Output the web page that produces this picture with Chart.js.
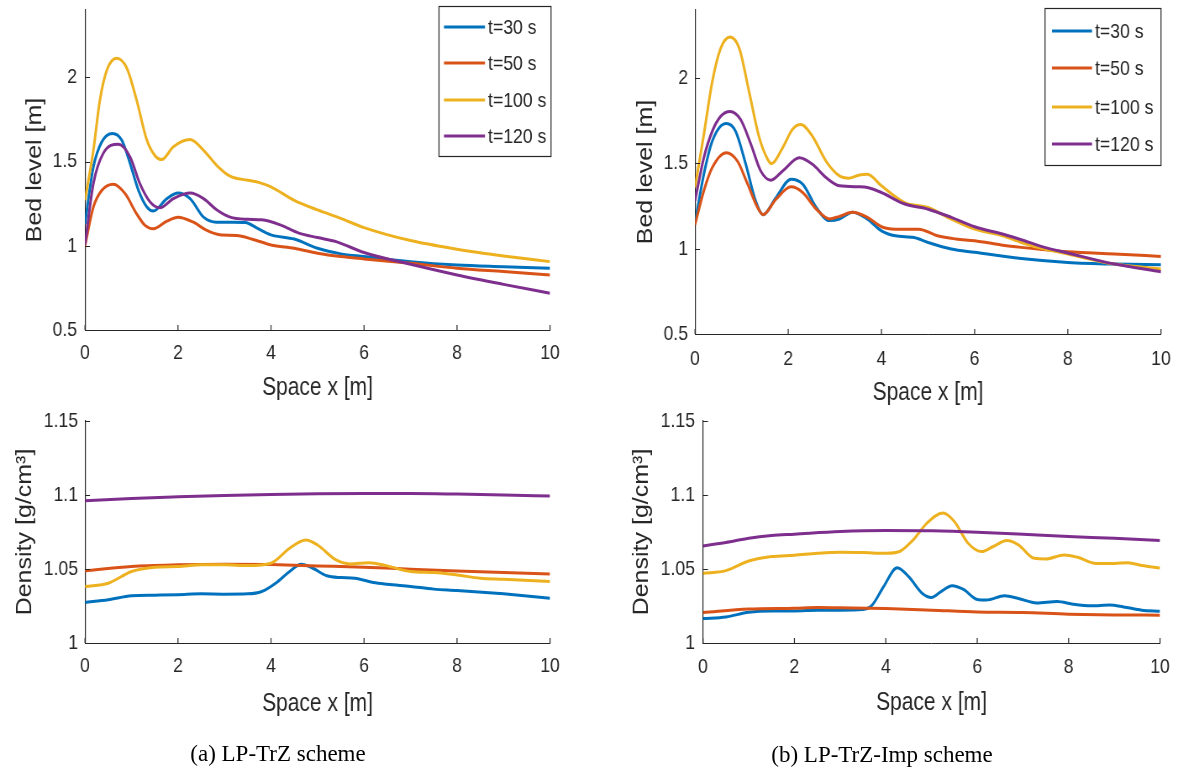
<!DOCTYPE html>
<html><head><meta charset="utf-8">
<script src="https://cdn.jsdelivr.net/npm/chart.js@4.4.0/dist/chart.umd.min.js"></script>
<style>
html,body{margin:0;padding:0;background:#fff;}
#wrap{position:relative;width:1178px;height:771px;overflow:hidden;background:#fff;}
#wrap canvas{position:absolute;left:0;top:0;}
.cap{position:absolute;font-family:'Liberation Serif','Times New Roman',serif;font-size:23px;color:#000;white-space:nowrap;transform:translate(-50%,-50%);}
</style></head><body>
<div id="wrap">
<canvas id="cTL" width="1402" height="771" style="width:1178px;height:771px"></canvas>
<canvas id="cTR" width="1402" height="771" style="width:1178px;height:771px"></canvas>
<canvas id="cBL" width="1402" height="771" style="width:1178px;height:771px"></canvas>
<canvas id="cBR" width="1402" height="771" style="width:1178px;height:771px"></canvas>
<div class="cap" style="left:278px;top:754px">(a) LP-TrZ scheme</div>
<div class="cap" style="left:882px;top:755px">(b) LP-TrZ-Imp scheme</div>
</div>
<script>
// ---------- series labels / tick labels ----------
const seriesLabels = ['t=30 s', 't=50 s', 't=100 s', 't=120 s'];
const xTicks = [0, 2, 4, 6, 8, 10];
const bedTicks = [0.5, 1, 1.5, 2];
const densTicks = [1, 1.05, 1.1, 1.15];

// ---------- (a) LP-TrZ : bed level ----------
const aBedX30 = [0, 0.18, 0.36, 0.59, 0.79, 0.97, 1.15, 1.33, 1.47, 1.76, 2.0, 2.26, 2.55, 2.83, 3.19, 3.45, 3.7, 4.0, 4.5, 5.0, 5.5, 6.0, 7.0, 8.0, 9.0, 10.0];
const aBedY30 = [1.131, 1.468, 1.617, 1.667, 1.627, 1.488, 1.329, 1.23, 1.206, 1.28, 1.313, 1.28, 1.17, 1.14, 1.14, 1.138, 1.105, 1.065, 1.04, 0.985, 0.952, 0.936, 0.906, 0.886, 0.876, 0.867];
const aBedX50 = [0, 0.18, 0.36, 0.61, 0.86, 1.11, 1.29, 1.47, 1.76, 2.0, 2.33, 2.62, 2.9, 3.26, 3.6, 4.0, 4.5, 5.0, 5.5, 6.0, 7.0, 8.0, 9.0, 10.0];
const aBedY50 = [1.0, 1.23, 1.329, 1.365, 1.31, 1.19, 1.121, 1.101, 1.146, 1.17, 1.14, 1.091, 1.065, 1.061, 1.039, 1.005, 0.985, 0.956, 0.936, 0.922, 0.896, 0.867, 0.847, 0.827];
const aBedX100 = [0, 0.18, 0.32, 0.47, 0.68, 0.9, 1.11, 1.33, 1.5, 1.65, 1.9, 2.26, 2.55, 2.83, 3.12, 3.5, 3.75, 4.0, 4.5, 5.0, 5.5, 6.0, 7.0, 8.0, 9.0, 10.0];
const aBedY100 = [1.27, 1.567, 1.865, 2.043, 2.113, 2.054, 1.865, 1.627, 1.537, 1.512, 1.588, 1.631, 1.567, 1.478, 1.413, 1.389, 1.375, 1.35, 1.27, 1.213, 1.163, 1.108, 1.031, 0.98, 0.94, 0.906];
const aBedX120 = [0, 0.18, 0.39, 0.72, 0.97, 1.18, 1.4, 1.61, 1.9, 2.26, 2.55, 2.83, 3.12, 3.5, 3.8, 4.2, 4.6, 5.0, 5.4, 6.0, 7.0, 8.0, 9.0, 10.0];
const aBedY120 = [1.005, 1.369, 1.548, 1.603, 1.527, 1.369, 1.26, 1.226, 1.28, 1.313, 1.28, 1.214, 1.17, 1.157, 1.154, 1.124, 1.075, 1.049, 1.025, 0.96, 0.89, 0.827, 0.771, 0.718];

// ---------- (b) LP-TrZ-Imp : bed level ----------
const bBedX30 = [0, 0.19, 0.37, 0.67, 0.87, 1.09, 1.3, 1.46, 1.74, 2.06, 2.31, 2.6, 2.88, 3.1, 3.38, 3.7, 4.0, 4.3, 4.7, 5.0, 5.5, 6.0, 7.0, 8.0, 9.0, 10.0];
const bBedY30 = [1.15, 1.437, 1.631, 1.734, 1.689, 1.495, 1.281, 1.2, 1.301, 1.408, 1.379, 1.243, 1.165, 1.174, 1.214, 1.174, 1.105, 1.076, 1.066, 1.037, 0.998, 0.979, 0.943, 0.92, 0.91, 0.906];
const bBedX50 = [0, 0.19, 0.37, 0.67, 0.91, 1.13, 1.34, 1.46, 1.74, 2.06, 2.31, 2.6, 2.88, 3.1, 3.38, 3.7, 4.0, 4.3, 4.8, 5.2, 5.6, 6.0, 6.6, 7.0, 8.0, 9.0, 10.0];
const bBedY50 = [1.14, 1.34, 1.476, 1.563, 1.514, 1.379, 1.243, 1.2, 1.291, 1.363, 1.33, 1.233, 1.175, 1.19, 1.214, 1.184, 1.129, 1.115, 1.115, 1.076, 1.057, 1.047, 1.021, 1.008, 0.982, 0.969, 0.955];
const bBedX100 = [0, 0.19, 0.37, 0.55, 0.75, 0.95, 1.16, 1.38, 1.56, 1.64, 1.88, 2.09, 2.27, 2.52, 2.81, 3.1, 3.31, 3.53, 3.7, 4.0, 4.5, 5.0, 5.5, 6.0, 6.6, 7.0, 7.5, 8.0, 9.0, 10.0];
const bBedY100 = [1.359, 1.67, 1.98, 2.175, 2.242, 2.175, 1.922, 1.65, 1.524, 1.499, 1.592, 1.699, 1.728, 1.66, 1.514, 1.427, 1.414, 1.433, 1.437, 1.369, 1.271, 1.242, 1.174, 1.115, 1.076, 1.037, 0.998, 0.969, 0.91, 0.881];
const bBedX120 = [0, 0.19, 0.37, 0.55, 0.75, 0.98, 1.2, 1.41, 1.63, 1.88, 2.24, 2.52, 2.81, 3.1, 3.53, 3.7, 4.0, 4.5, 5.0, 5.5, 6.0, 6.6, 7.0, 7.5, 8.0, 9.0, 10.0];
const bBedY120 = [1.281, 1.534, 1.689, 1.776, 1.805, 1.757, 1.612, 1.456, 1.402, 1.456, 1.534, 1.495, 1.418, 1.369, 1.363, 1.359, 1.33, 1.262, 1.232, 1.184, 1.129, 1.086, 1.053, 1.008, 0.975, 0.91, 0.865];

// ---------- (a) LP-TrZ : density ----------
const aDenX30 = [0, 0.5, 1, 1.5, 2, 2.5, 3, 3.5, 3.8, 4.1, 4.4, 4.65, 4.9, 5.2, 5.5, 5.8, 6.2, 6.5, 7, 7.5, 8, 9, 10];
const aDenY30 = [1.0274, 1.0292, 1.0319, 1.0323, 1.0326, 1.0332, 1.033, 1.0332, 1.0348, 1.0404, 1.0483, 1.0532, 1.0505, 1.0454, 1.0442, 1.0438, 1.0409, 1.0397, 1.0382, 1.0364, 1.0355, 1.0332, 1.0303];
const aDenX50 = [0, 1, 2, 3, 4, 5, 6, 7, 8, 9, 10];
const aDenY50 = [1.0487, 1.0517, 1.0528, 1.0532, 1.053, 1.0521, 1.0512, 1.0499, 1.0487, 1.0476, 1.0467];
const aDenX100 = [0, 0.5, 1, 1.5, 2, 2.5, 3, 3.5, 4, 4.4, 4.75, 5.0, 5.4, 5.7, 6.1, 6.5, 7, 7.5, 8, 8.5, 9, 10];
const aDenY100 = [1.0382, 1.0404, 1.0483, 1.0512, 1.0517, 1.0528, 1.0528, 1.0523, 1.0539, 1.064, 1.0696, 1.0662, 1.0561, 1.0534, 1.0543, 1.0521, 1.0483, 1.0476, 1.046, 1.0438, 1.0431, 1.0415];
const aDenX120 = [0, 1, 2, 3, 4, 5, 6, 7, 8, 9, 10];
const aDenY120 = [1.0961, 1.0977, 1.0988, 1.0997, 1.1004, 1.1008, 1.101, 1.101, 1.1006, 1.1, 1.0993];

// ---------- (b) LP-TrZ-Imp : density ----------
const bDenX30 = [0, 0.5, 1, 1.5, 2, 2.5, 3, 3.5, 3.7, 3.95, 4.25, 4.5, 4.8, 5.0, 5.2, 5.45, 5.7, 6.0, 6.2, 6.6, 6.9, 7.3, 7.75, 8.1, 8.5, 8.9, 9.2, 9.6, 10];
const bDenY30 = [1.0165, 1.0176, 1.0208, 1.0217, 1.0217, 1.0222, 1.0222, 1.0226, 1.0256, 1.038, 1.0509, 1.0448, 1.0335, 1.0308, 1.0346, 1.0387, 1.0362, 1.0294, 1.029, 1.0319, 1.0301, 1.0271, 1.0281, 1.0262, 1.0251, 1.0256, 1.0244, 1.0222, 1.0215];
const bDenX50 = [0, 1, 2, 2.5, 3, 4, 5, 6, 7, 8, 9, 10];
const bDenY50 = [1.0206, 1.0229, 1.0235, 1.024, 1.0238, 1.0233, 1.0222, 1.021, 1.0206, 1.0195, 1.019, 1.0188];
const bDenX100 = [0, 0.5, 1, 1.5, 2, 2.5, 3, 3.5, 4, 4.3, 4.6, 4.9, 5.25, 5.5, 5.8, 6.1, 6.35, 6.65, 6.9, 7.25, 7.5, 7.9, 8.2, 8.6, 9.0, 9.3, 9.6, 10];
const bDenY100 = [1.0471, 1.0489, 1.0554, 1.0584, 1.0593, 1.0606, 1.0613, 1.0611, 1.0606, 1.0618, 1.0697, 1.081, 1.0878, 1.0821, 1.0674, 1.0618, 1.0652, 1.0692, 1.0663, 1.0572, 1.0568, 1.0595, 1.0579, 1.0538, 1.0538, 1.0543, 1.0523, 1.0507];
const bDenX120 = [0, 0.5, 1, 1.5, 2, 3, 4, 5, 6, 7, 8, 9, 10];
const bDenY120 = [1.0656, 1.0679, 1.0708, 1.0726, 1.0735, 1.0753, 1.076, 1.0758, 1.0749, 1.0735, 1.0719, 1.0708, 1.0692];

// ---------- styling ----------
const COLORS = ['#0072BD', '#D95319', '#EDB120', '#7E2F8E'];
const AXIS = '#262626';
const FONT = "'Liberation Sans', Arial, Helvetica, sans-serif";
const SQ = 1178 / 1402;           // horizontal squeeze of the drawing (canvas drawn wider, shown at 1178px)
const W = 1402, H = 771;          // internal canvas size
const TICK_LEN_X = 5;             // vertical tick marks on x axis (px)
const TICK_LEN_Y = 5 / SQ;        // horizontal tick marks on y axis (internal px)

const inwardTicks = {
  id: 'inwardTicks',
  afterDraw(chart) {
    const {ctx, chartArea: a, scales: {x, y}} = chart;
    ctx.save();
    ctx.strokeStyle = AXIS;
    ctx.lineWidth = 1.2;
    ctx.beginPath();
    x.ticks.forEach(t => { const px = x.getPixelForValue(t.value); ctx.moveTo(px, a.bottom); ctx.lineTo(px, a.bottom - TICK_LEN_X); });
    ctx.stroke();
    ctx.lineWidth = 1;
    ctx.beginPath();
    y.ticks.forEach(t => { const py = Math.round(y.getPixelForValue(t.value)) + 0.5; ctx.moveTo(a.left, py); ctx.lineTo(a.left + TICK_LEN_Y, py); });
    ctx.stroke();
    ctx.restore();
  }
};

const boxLegend = {
  id: 'boxLegend',
  afterDraw(chart, args, opts) {
    if (!opts || !opts.box) return;
    const ctx = chart.ctx;
    const bx = opts.box[0] / SQ, by = opts.box[1], bw = opts.box[2] / SQ, bh = opts.box[3];
    ctx.save();
    ctx.fillStyle = '#fff'; ctx.fillRect(bx, by, bw, bh);
    ctx.strokeStyle = AXIS; ctx.lineWidth = 1.2; ctx.strokeRect(bx, by + 0.5, bw, bh);
    ctx.font = opts.size + 'px ' + FONT;
    ctx.textBaseline = 'middle'; ctx.textAlign = 'left';
    chart.data.datasets.forEach((d, i) => {
      const yy = opts.rows[i];
      ctx.strokeStyle = d.borderColor; ctx.lineWidth = 3; ctx.lineCap = 'butt';
      ctx.beginPath(); ctx.moveTo(opts.line[0] / SQ, yy); ctx.lineTo(opts.line[1] / SQ, yy); ctx.stroke();
      ctx.fillStyle = AXIS;
      ctx.fillText(d.label, opts.textX / SQ, yy + 1);
    });
    ctx.restore();
  }
};

const fmt = v => String(+(+v).toFixed(3));

// spec values are page pixels; converted to the wider internal canvas horizontally
function makePanel(id, spec, xs, ys, yMin, yMax, yTicks, yTitle, legend) {
  const datasets = xs.map((xa, i) => ({
    label: seriesLabels[i],
    data: xa.map((x, k) => ({x: x, y: ys[i][k]})),
    borderColor: COLORS[i],
    backgroundColor: COLORS[i],
    borderWidth: 3,
    pointRadius: 0,
    fill: false,
    cubicInterpolationMode: 'monotone',
    order: 3 - i
  }));
  const padL = spec.yTitleX / SQ - 15;
  const yW = spec.left / SQ - padL;
  const xH = spec.xTitleY + 15 - spec.bottom;
  new Chart(document.getElementById(id), {
    type: 'line',
    data: {datasets},
    plugins: [inwardTicks, boxLegend],
    options: {
      responsive: false, animation: false, devicePixelRatio: 1,
      layout: {padding: {left: padL, top: spec.top, right: W - spec.right / SQ, bottom: H - spec.bottom - xH}},
      plugins: {legend: {display: false}, tooltip: {enabled: false}, boxLegend: legend || {}},
      scales: {
        x: {
          type: 'linear', min: 0, max: 10, bounds: 'data',
          afterBuildTicks: s => { s.ticks = xTicks.map(v => ({value: v})); },
          afterFit: s => { s.height = xH; s.paddingLeft = 0; s.paddingRight = 0; },
          grid: {display: false, drawTicks: false},
          border: {display: true, color: AXIS, width: 1},
          ticks: {color: AXIS, font: {family: FONT, size: 21}, padding: spec.xTickPad, maxRotation: 0, autoSkip: false, callback: fmt},
          title: {display: true, text: 'Space x [m]', color: AXIS, font: {family: FONT, size: 25}, padding: {top: 0, bottom: 0}}
        },
        y: {
          type: 'linear', min: yMin, max: yMax, bounds: 'data',
          afterBuildTicks: s => { s.ticks = yTicks.map(v => ({value: v})); },
          afterFit: s => { s.width = yW; s.paddingTop = 0; s.paddingBottom = 0; },
          grid: {display: false, drawTicks: false},
          border: {display: true, color: AXIS, width: 1.2},
          ticks: {color: AXIS, font: {family: FONT, size: 21}, padding: spec.yTickPad / SQ, autoSkip: false, callback: fmt},
          title: {display: true, text: yTitle, color: AXIS, font: {family: FONT, size: 25}, padding: {top: 0, bottom: 0}}
        }
      }
    }
  });
}

makePanel('cTL', {left: 85, top: 10, right: 550, bottom: 330, yTitleX: 35, xTitleY: 388, xTickPad: 11, yTickPad: 8},
  [aBedX30, aBedX50, aBedX100, aBedX120], [aBedY30, aBedY50, aBedY100, aBedY120],
  0.5, 2.4, bedTicks, 'Bed level [m]',
  {box: [439, 6, 112, 150], line: [444, 485], textX: 488, rows: [27, 63, 100, 136], size: 21});

makePanel('cTR', {left: 695, top: 10, right: 1161, bottom: 334, yTitleX: 646, xTitleY: 393, xTickPad: 13, yTickPad: 7},
  [bBedX30, bBedX50, bBedX100, bBedX120], [bBedY30, bBedY50, bBedY100, bBedY120],
  0.5, 2.4, bedTicks, 'Bed level [m]',
  {box: [1045, 8, 116, 157], line: [1052, 1092], textX: 1095, rows: [31, 68, 107, 144], size: 21});

makePanel('cBL', {left: 85, top: 421, right: 550, bottom: 643, yTitleX: 25, xTitleY: 704, xTickPad: 11, yTickPad: 7},
  [aDenX30, aDenX50, aDenX100, aDenX120], [aDenY30, aDenY50, aDenY100, aDenY120],
  1, 1.15, densTicks, 'Density [g/cm³]', null);

makePanel('cBR', {left: 703, top: 421, right: 1160, bottom: 643, yTitleX: 642, xTitleY: 703, xTickPad: 12, yTickPad: 8},
  [bDenX30, bDenX50, bDenX100, bDenX120], [bDenY30, bDenY50, bDenY100, bDenY120],
  1, 1.15, densTicks, 'Density [g/cm³]', null);
</script>
</body></html>
